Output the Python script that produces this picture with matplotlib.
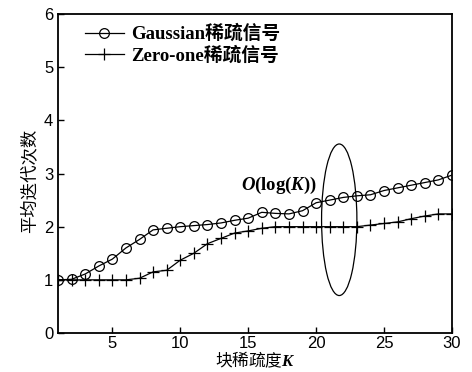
import matplotlib.pyplot as plt
import numpy as np
from matplotlib.patches import Ellipse

plt.rcParams['mathtext.fontset'] = 'custom'
plt.rcParams['mathtext.it'] = 'Liberation Serif:italic'
plt.rcParams['mathtext.bf'] = 'Liberation Serif:italic:bold'
plt.rcParams['mathtext.rm'] = 'Liberation Serif'

K = np.arange(1, 31)
gauss = [1.00, 1.01, 1.11, 1.26, 1.39, 1.60, 1.76, 1.94, 1.97, 2.00,
         2.02, 2.04, 2.07, 2.12, 2.16, 2.27, 2.25, 2.24, 2.30, 2.45,
         2.50, 2.55, 2.58, 2.60, 2.68, 2.73, 2.78, 2.83, 2.88, 2.97]
zero_one = [1.00, 1.00, 1.00, 1.00, 1.00, 1.00, 1.03, 1.15, 1.18, 1.37,
            1.50, 1.68, 1.78, 1.88, 1.92, 1.97, 2.00, 2.00, 2.00, 2.00,
            2.00, 2.00, 2.00, 2.03, 2.06, 2.09, 2.15, 2.20, 2.24, 2.24]
labels = ['Gaussian稀疏信号', 'Zero-one稀疏信号']

fig = plt.figure(figsize=(4.72, 3.72), dpi=100)
ax = fig.add_axes([0.1229, 0.1048, 0.8347, 0.8576])

ax.plot(K, gauss, '-o', color='black', lw=0.9, ms=7, mfc='none', mew=0.9, label=labels[0])
ax.plot(K, zero_one, '-+', color='black', lw=0.9, ms=8, mew=0.9, label=labels[1])

ax.add_patch(Ellipse((21.7, 2.13), 2.6, 2.85, fill=False, color='black', lw=0.9))
ax.text(14.5, 2.77, '$\\mathbf{O}$(log($\\mathbf{K}$))', fontsize=13.5, fontweight='bold',
        family='Liberation Serif', va='center', ha='left')

ax.set_xlim(1, 30)
ax.set_ylim(0, 6)
ax.set_xticks([5, 10, 15, 20, 25, 30])
ax.set_yticks(range(7))
ax.tick_params(direction='in', length=4, width=1, labelsize=12, top=False, right=False)
ax.tick_params(axis='x', pad=2)
for lab in ax.get_xticklabels() + ax.get_yticklabels():
    lab.set_family('Liberation Sans')
for s in ax.spines.values():
    s.set_linewidth(1.3)

ax.set_xlabel('块稀疏度$\\mathbf{K}$', fontsize=12, family=['Noto Sans CJK SC', 'DejaVu Sans'], labelpad=-0.5)
ax.set_ylabel('平均迭代次数', fontsize=12.5, family=['Noto Sans CJK SC', 'DejaVu Sans'])
ax.yaxis.set_label_coords(-0.05, 0.476)

ax.legend(loc='upper left', bbox_to_anchor=(0.02, 1.025), frameon=False,
          handlelength=2.1, handletextpad=0.4, labelspacing=0.15, borderaxespad=0.6,
          prop={'family': ['Liberation Serif', 'Noto Sans CJK SC'], 'weight': 'bold', 'size': 13.5})

fig.savefig('out.png', dpi=100)
print('ok')
